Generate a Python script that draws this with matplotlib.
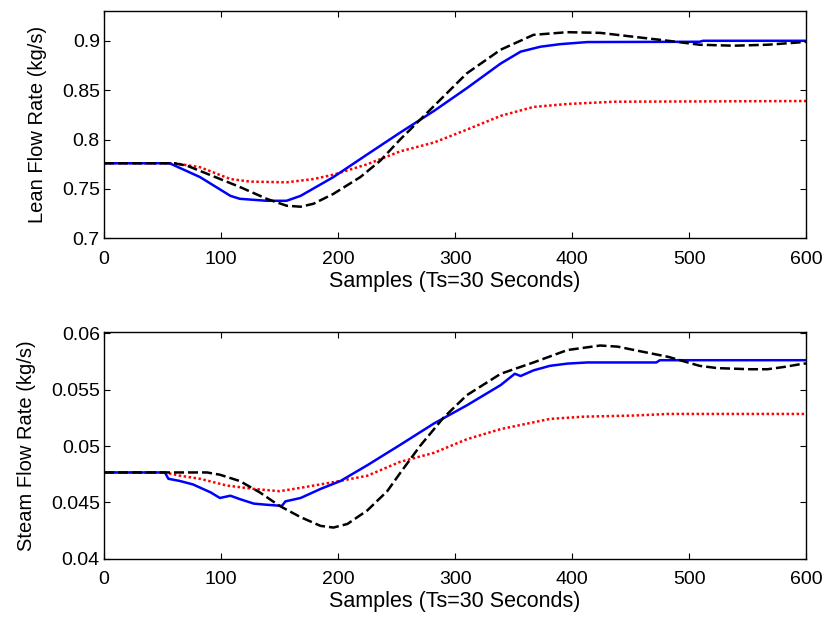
import matplotlib
matplotlib.use("Agg")
import matplotlib.pyplot as plt

plt.rcParams['font.family'] = ['Liberation Sans', 'DejaVu Sans']

# ---- Top panel: Lean flow rate ----
lean_blue_x = [0, 56, 82, 108, 116, 139, 156, 168, 196, 225, 253, 282, 310, 339, 356, 373, 390, 413, 509, 512, 600]
lean_blue_y = [0.776, 0.776, 0.762, 0.743, 0.740, 0.738, 0.738, 0.743, 0.762, 0.785, 0.807, 0.829, 0.852, 0.877, 0.889, 0.894, 0.8966, 0.8987, 0.899, 0.900, 0.900]

lean_black_x = [0, 60, 71, 93, 116, 139, 156, 168, 179, 196, 219, 236, 253, 282, 310, 339, 367, 396, 424, 453, 482, 509, 538, 567, 598, 600]
lean_black_y = [0.776, 0.776, 0.7735, 0.763, 0.752, 0.740, 0.733, 0.732, 0.735, 0.745, 0.762, 0.7785, 0.800, 0.834, 0.867, 0.891, 0.906, 0.9087, 0.908, 0.904, 0.900, 0.896, 0.895, 0.896, 0.8987, 0.899]

lean_red_x = [0, 60, 82, 108, 125, 156, 179, 196, 225, 253, 282, 310, 339, 367, 396, 436, 600]
lean_red_y = [0.776, 0.776, 0.772, 0.760, 0.7574, 0.7567, 0.760, 0.7644, 0.775, 0.788, 0.797, 0.810, 0.824, 0.833, 0.836, 0.8383, 0.839]

# ---- Bottom panel: Steam flow rate ----
steam_blue_x = [0, 52, 55, 65, 76, 91, 99, 108, 116, 128, 139, 152, 155, 168, 185, 202, 225, 253, 282, 310, 339, 351, 356, 367, 381, 396, 413, 472, 475, 600]
steam_blue_y = [0.04766, 0.04766, 0.0471, 0.0469, 0.0466, 0.0459, 0.0454, 0.0456, 0.0453, 0.0449, 0.0448, 0.0447, 0.0451, 0.0454, 0.0462, 0.0469, 0.0483, 0.0501, 0.0520, 0.0536, 0.0554, 0.0564, 0.0562, 0.0567, 0.0571, 0.0573, 0.0574, 0.0574, 0.0576, 0.0576]

steam_black_x = [0, 88, 99, 116, 133, 150, 168, 185, 196, 208, 225, 242, 253, 270, 290, 310, 339, 367, 396, 424, 439, 453, 482, 509, 524, 552, 567, 581, 598, 600]
steam_black_y = [0.04766, 0.04766, 0.04746, 0.0469, 0.0459, 0.0447, 0.0437, 0.04293, 0.04278, 0.0431, 0.0443, 0.0460, 0.0476, 0.0500, 0.0525, 0.0545, 0.0564, 0.0574, 0.0585, 0.0589, 0.0588, 0.0585, 0.0579, 0.0571, 0.0569, 0.0568, 0.0568, 0.0570, 0.0573, 0.0573]

steam_red_x = [0, 52, 65, 82, 105, 128, 150, 168, 196, 225, 253, 282, 310, 339, 367, 381, 410, 453, 482, 600]
steam_red_y = [0.04766, 0.04766, 0.04737, 0.0471, 0.0465, 0.0462, 0.0460, 0.0463, 0.0468, 0.04737, 0.0486, 0.0494, 0.0506, 0.0515, 0.0521, 0.0524, 0.0526, 0.0527, 0.05284, 0.05284]

x_ticks = [0, 100, 200, 300, 400, 500, 600]
lean_ticks = [0.7, 0.75, 0.8, 0.85, 0.9]
lean_tick_labels = ['0.7', '0.75', '0.8', '0.85', '0.9']
steam_ticks = [0.04, 0.045, 0.05, 0.055, 0.06]
steam_tick_labels = ['0.04', '0.045', '0.05', '0.055', '0.06']
xlabel = 'Samples (Ts=30 Seconds)'
lean_ylabel = 'Lean Flow Rate (kg/s)'
steam_ylabel = 'Steam Flow Rate (kg/s)'

fig = plt.figure(figsize=(8.27, 6.19), dpi=100)
ax1 = fig.add_axes([0.1258, 0.615, 0.849, 0.367])
ax2 = fig.add_axes([0.1258, 0.097, 0.849, 0.3667])

def style(ax):
    ax.tick_params(direction='in', length=4, width=0.8, top=True, right=True,
                   labelsize=14, colors='black')
    ax.tick_params(axis='x', pad=9)
    ax.tick_params(axis='y', pad=3)
    for s in ax.spines.values():
        s.set_linewidth(1.0)
    ax.set_xlim(0, 600)
    ax.set_xticks(x_ticks)
    ax.set_xlabel(xlabel, fontsize=15.5, labelpad=2)

lw = 1.8
dot = (0, (1, 1))
dash = (0, (4, 1.6))
ax1.plot(lean_red_x, lean_red_y, color='red', linestyle=dot, linewidth=lw)
ax1.plot(lean_blue_x, lean_blue_y, color='blue', linestyle='-', linewidth=lw)
ax1.plot(lean_black_x, lean_black_y, color='black', linestyle=dash, linewidth=lw)
style(ax1)
ax1.set_ylim(0.7, 0.93)
ax1.set_yticks(lean_ticks)
ax1.set_yticklabels(lean_tick_labels)
ax1.set_ylabel(lean_ylabel, fontsize=14.5, labelpad=11)

ax2.plot(steam_red_x, steam_red_y, color='red', linestyle=dot, linewidth=lw)
ax2.plot(steam_blue_x, steam_blue_y, color='blue', linestyle='-', linewidth=lw)
ax2.plot(steam_black_x, steam_black_y, color='black', linestyle=dash, linewidth=lw)
style(ax2)
ax2.set_ylim(0.04, 0.0601)
ax2.set_yticks(steam_ticks)
ax2.set_yticklabels(steam_tick_labels)
ax2.set_ylabel(steam_ylabel, fontsize=14.5, labelpad=11)

fig.savefig('out.png', dpi=100)
